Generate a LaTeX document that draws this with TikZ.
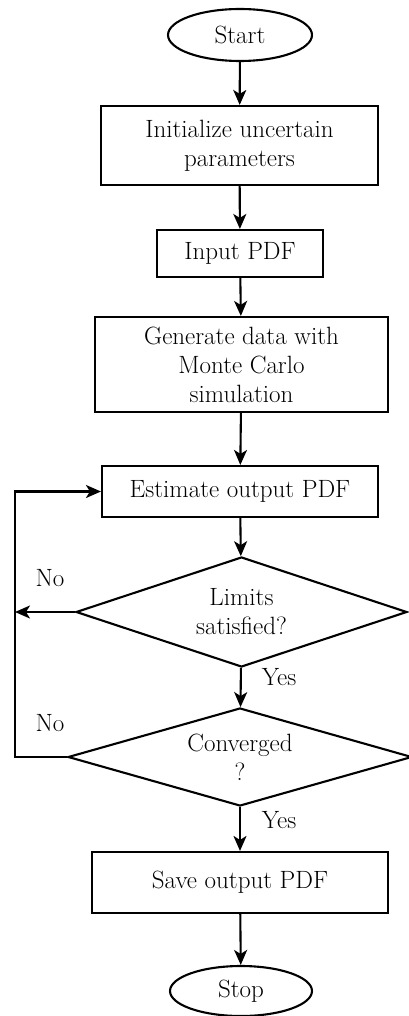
\documentclass[tikz,border=0pt]{standalone}
\usetikzlibrary{shapes.geometric,arrows.meta}
\begin{document}
\begin{tikzpicture}[x=1pt,y=-1pt,
  every node/.style={font=\fontsize{25}{29}\selectfont, inner sep=0pt, align=center},
  shape line/.style={draw, line width=2.1pt},
  terminal/.style={shape line, ellipse},
  process/.style={shape line, rectangle},
  decision/.style={shape line, diamond, aspect=3},
  flow/.style={line width=2.1pt, -{Stealth[length=15pt,width=13pt,inset=4pt]}},
  tag/.style={font=\fontsize{25}{26}\selectfont}
]
\useasboundingbox (0,0) rectangle (409,1016);

% blocks of the flow chart
\node[terminal, minimum width=144pt, minimum height=52pt] (start) at (240,35) {Start};
\node[process, minimum width=277pt, minimum height=79pt] (init) at (239.5,145.5) {Initialize uncertain\\parameters};
\node[process, minimum width=166pt, minimum height=47pt] (input) at (240,253.5) {Input PDF};
\node[process, minimum width=293pt, minimum height=95pt] (gen) at (241.5,364.5) {Generate data with\\Monte Carlo\\simulation};
\node[process, minimum width=276pt, minimum height=51pt] (est) at (240,491.5) {Estimate output PDF};
\node[decision, minimum width=331pt, minimum height=110pt] (lim) at (241.5,612) {Limits\\satisfied?};
\node[decision, minimum width=344pt, minimum height=98pt] (conv) at (240,757) {Converged\\?};
\node[process, minimum width=296pt, minimum height=61pt] (save) at (240,882.5) {Save output PDF};
\node[terminal, minimum width=142pt, minimum height=50pt] (stop) at (241,991) {Stop};

% main sequence
\draw[flow] (start) -- (init);
\draw[flow] (init) -- (input);
\draw[flow] (input) -- (gen);
\draw[flow] (gen) -- (est);
\draw[flow] (est) -- (lim);
\draw[flow] (lim) -- (conv);
\draw[flow] (conv) -- (save);
\draw[flow] (save) -- (stop);

% feedback loop on the left
\coordinate (rail) at (15,0);
\draw[flow] (lim.west) -- (lim.west -| rail);
\draw[flow] (conv.west) -- (conv.west -| rail) |- (est.west);

% branch labels
\node[tag] (no1) at (50,578) {No};
\node[tag] (no2) at (50,723) {No};
\node[tag] (yes1) at (279,677) {Yes};
\node[tag] (yes2) at (279,820) {Yes};
\end{tikzpicture}
\end{document}
